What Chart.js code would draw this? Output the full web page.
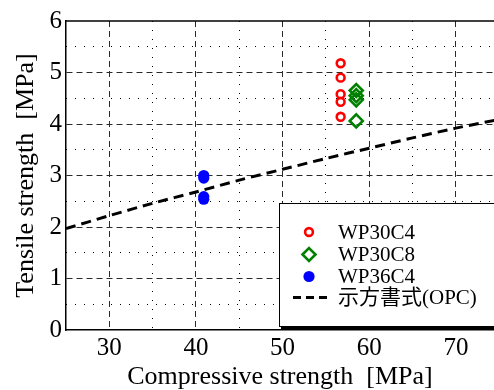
<!DOCTYPE html>
<html>
<head>
<meta charset="utf-8">
<script src="https://cdn.jsdelivr.net/npm/chart.js@4/dist/chart.umd.min.js"></script>
<style>
  html, body { margin: 0; padding: 0; background: #ffffff; }
  #wrap { width: 494px; height: 390px; position: relative; }
</style>
</head>
<body>
<div id="wrap"><canvas id="c"></canvas></div>
<script>
// series names as in the legend
const seriesNames = ['WP30C4', 'WP30C8', 'WP36C4', '示方書式(OPC)'];

// WP30C4 (red open circles)
const wp30c4X = [56.7, 56.7, 56.7, 56.7, 56.7];
const wp30c4Y = [5.18, 4.90, 4.58, 4.43, 4.14];

// WP30C8 (green open diamonds)
const wp30c8X = [58.5, 58.5, 58.5, 58.5];
const wp30c8Y = [4.65, 4.55, 4.47, 4.06];

// WP36C4 (blue filled circles)
const wp36c4X = [40.9, 40.9, 40.9, 40.9];
const wp36c4Y = [3.00, 2.95, 2.59, 2.54];

// 示方書式 curve
const opcX = [25, 30, 35, 40, 45, 50, 55, 60, 65, 70, 75];
const opcY = [1.97, 2.22, 2.46, 2.68, 2.91, 3.12, 3.33, 3.53, 3.73, 3.92, 4.09];

const xTitle = 'Compressive strength  [MPa]';
const yTitle = 'Tensile strength  [MPa]';

const serif = "'Liberation Serif', 'Times New Roman', 'Noto Sans CJK JP', serif";
Chart.defaults.font.family = serif;
Chart.defaults.color = '#000000';

const toPoints = (xs, ys) => xs.map((x, i) => ({ x: x, y: ys[i] }));

const datasets = [
    {
        label: seriesNames[0],
        data: toPoints(wp30c4X, wp30c4Y),
        pointStyle: 'circle',
        pointRadius: 3.9,
        pointBorderWidth: 2.6,
        pointBorderColor: '#ff0000',
        pointBackgroundColor: 'rgba(0,0,0,0)',
        showLine: false
    },
    {
        label: seriesNames[1],
        data: toPoints(wp30c8X, wp30c8Y),
        pointStyle: 'rectRot',
        pointRadius: 6.5,
        pointBorderWidth: 2.6,
        pointBorderColor: '#008000',
        pointBackgroundColor: 'rgba(0,0,0,0)',
        showLine: false
    },
    {
        label: seriesNames[2],
        data: toPoints(wp36c4X, wp36c4Y),
        pointStyle: 'circle',
        pointRadius: 5.6,
        pointBorderWidth: 0,
        pointBorderColor: '#0000ff',
        pointBackgroundColor: '#0000ff',
        showLine: false
    },
    {
        label: seriesNames[3],
        type: 'line',
        data: toPoints(opcX, opcY),
        borderColor: '#000000',
        borderWidth: 3,
        borderDash: [10, 6],
        pointRadius: 0,
        tension: 0.3,
        fill: false
    }
];

const majorDash = [6, 4];
const minorDash = [1, 8];

// top frame line + legend box drawn inside the plot
const framePlugin = {
    id: 'frame',
    afterDraw(chart) {
        const ctx = chart.ctx;
        const a = chart.chartArea;
        ctx.save();
        ctx.strokeStyle = '#000000';
        ctx.lineWidth = 1.5;
        ctx.beginPath();
        ctx.moveTo(a.left, a.top);
        ctx.lineTo(a.right, a.top);
        ctx.stroke();

        // legend box
        const bx = a.left + 213, by = a.top + 182;
        const bw = a.right - bx + 2, bh = a.bottom - 4 - by;
        ctx.fillStyle = '#000000';
        ctx.fillRect(bx + 2, by + bh - 1, bw, 4);
        ctx.fillStyle = '#ffffff';
        ctx.fillRect(bx, by, bw, bh);
        ctx.lineWidth = 1;
        ctx.strokeRect(bx + 0.5, by + 0.5, bw, bh);

        const rowY = [232, 254.5, 276.5, 297.5];
        const mx = 309, tx = 338;
        ctx.font = '21px ' + serif;
        ctx.textBaseline = 'middle';
        ctx.textAlign = 'left';
        chart.data.datasets.forEach((ds, i) => {
            if (ds.type === 'line') {
                ctx.save();
                ctx.strokeStyle = ds.borderColor;
                ctx.lineWidth = ds.borderWidth;
                ctx.setLineDash([8, 5]);
                ctx.beginPath();
                ctx.moveTo(293, rowY[i]);
                ctx.lineTo(332, rowY[i]);
                ctx.stroke();
                ctx.restore();
            } else {
                ctx.save();
                ctx.strokeStyle = ds.pointBorderColor;
                ctx.fillStyle = ds.pointBackgroundColor;
                ctx.lineWidth = ds.pointBorderWidth;
                Chart.helpers.drawPoint(ctx, {
                    pointStyle: ds.pointStyle,
                    radius: ds.pointRadius,
                    borderWidth: ds.pointBorderWidth,
                    rotation: 0
                }, mx, rowY[i]);
                ctx.restore();
            }
            ctx.fillStyle = '#000000';
            ctx.fillText(ds.label, tx, rowY[i] + 1);
        });
        ctx.restore();
    }
};

function build() {
    const chart = new Chart(document.getElementById('c'), {
        type: 'scatter',
        data: { datasets: datasets },
        options: {
            responsive: true,
            maintainAspectRatio: false,
            animation: false,
            layout: { autoPadding: false, padding: { top: 21, right: 0, bottom: 0, left: 0 } },
            plugins: {
                legend: { display: false },
                tooltip: { enabled: false }
            },
            scales: {
                x: {
                    type: 'linear',
                    position: 'bottom',
                    min: 25,
                    max: 74.4,
                    afterFit: (s) => { s.height = 60; },
                    ticks: {
                        stepSize: 10,
                        includeBounds: false,
                        padding: 3,
                        font: { family: serif, size: 25 },
                        color: '#000000'
                    },
                    grid: { color: '#2a2a2a', lineWidth: 1, drawTicks: false },
                    border: { display: true, color: '#000000', width: 1.5, dash: majorDash },
                    title: {
                        display: true,
                        text: xTitle,
                        font: { family: serif, size: 26, lineHeight: 1 },
                        padding: { top: 0, bottom: 0 },
                        color: '#000000'
                    }
                },
                x2: {
                    type: 'linear',
                    position: 'bottom',
                    min: 25,
                    max: 74.4,
                    afterFit: (s) => { s.height = 0; },
                    ticks: { display: false, stepSize: 5, includeBounds: false },
                    grid: {
                        drawTicks: false,
                        lineWidth: 1,
                        color: (c) => (c.tick && (c.tick.value % 10 === 0 || c.tick.value <= 25)) ? 'rgba(0,0,0,0)' : '#000000'
                    },
                    border: { display: false, dash: minorDash }
                },
                y: {
                    type: 'linear',
                    position: 'left',
                    min: 0,
                    max: 6,
                    afterFit: (s) => { s.width = 66; },
                    ticks: {
                        stepSize: 1,
                        padding: 4,
                        font: { family: serif, size: 25 },
                        color: '#000000'
                    },
                    grid: {
                        drawTicks: false,
                        lineWidth: 1,
                        color: (c) => (c.tick && (c.tick.value === 0 || c.tick.value === 6)) ? 'rgba(0,0,0,0)' : '#2a2a2a'
                    },
                    border: { display: true, color: '#000000', width: 1.5, dash: majorDash },
                    title: {
                        display: true,
                        text: yTitle,
                        font: { family: serif, size: 26, lineHeight: 1 },
                        padding: { top: 13, bottom: 0 },
                        color: '#000000'
                    }
                },
                y2: {
                    type: 'linear',
                    position: 'left',
                    min: 0,
                    max: 6,
                    afterFit: (s) => { s.width = 0; },
                    ticks: { display: false, stepSize: 0.5 },
                    grid: {
                        drawTicks: false,
                        lineWidth: 1,
                        color: (c) => (c.tick && Number.isInteger(c.tick.value)) ? 'rgba(0,0,0,0)' : '#000000'
                    },
                    border: { display: false, dash: minorDash }
                }
            }
        },
        plugins: [framePlugin]
    });
    // redraw once the fonts are surely in use
    if (document.fonts && document.fonts.ready) {
        document.fonts.ready.then(() => chart.update());
    }
}

if (document.fonts && document.fonts.load) {
    Promise.all([
        document.fonts.load('25px "Liberation Serif"'),
        document.fonts.load('21px "Noto Sans CJK JP"', '示方書式')
    ]).then(build, build);
} else {
    build();
}
</script>
</body>
</html>
